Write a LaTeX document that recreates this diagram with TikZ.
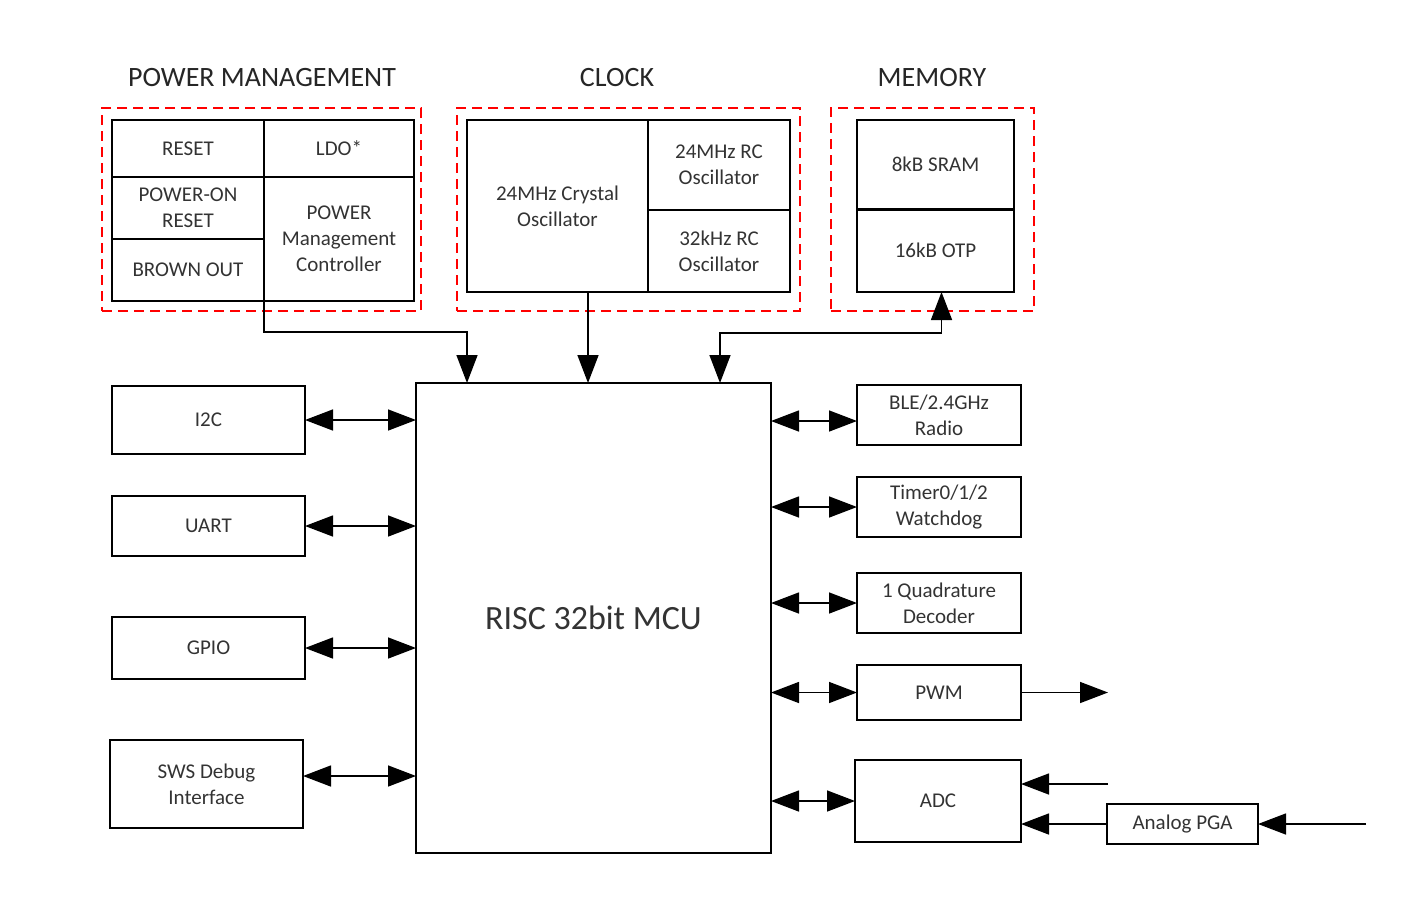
\documentclass[tikz,border=0pt]{standalone}
\usepackage{fontspec}
\setmainfont{Carlito}
\usetikzlibrary{arrows.meta}
\tikzset{
	blk/.style={draw, line width=1.5pt, inner sep=0pt, outer sep=0pt, align=center, text=black!80, font=\fontsize{21}{26}\selectfont},
	grp/.style={draw=red, dash pattern=on 10pt off 6pt, line width=1.5pt, inner sep=0pt, outer sep=0pt},
	ttl/.style={text=black!85, font=\fontsize{28}{32}\selectfont},
	link/.style={line width=1.5pt, -{Triangle[length=28pt,width=21pt]}},
	dlink/.style={line width=1.5pt, {Triangle[length=28pt,width=21pt]}-{Triangle[length=28pt,width=21pt]}},
}
\begin{document}
\begin{tikzpicture}[x=1pt, y=-1pt, line join=miter]
	\useasboundingbox (0,0) rectangle (1410,918);
	% group frames and titles
	\node[grp, minimum width=319pt, minimum height=203pt] (pmgrp) at (261.5,209.5) {};
	\node[grp, minimum width=343pt, minimum height=203pt] (clkgrp) at (628.5,209.5) {};
	\node[grp, minimum width=203pt, minimum height=203pt] (memgrp) at (932.5,209.5) {};
	\node[ttl] (pmttl) at (262,78) {POWER MANAGEMENT};
	\node[ttl] (clkttl) at (617,78) {CLOCK};
	\node[ttl] (memttl) at (932,78) {MEMORY};
	% power management
	\node[blk, minimum width=152pt, minimum height=57pt] (rst) at (188,148.5) {RESET};
	\node[blk, minimum width=150pt, minimum height=57pt] (ldo) at (339,148.5) {LDO*};
	\node[blk, minimum width=152pt, minimum height=62pt] (por) at (188,208) {POWER-ON\\RESET};
	\node[blk, minimum width=152pt, minimum height=62pt] (bor) at (188,270) {BROWN OUT};
	\node[blk, minimum width=150pt, minimum height=124pt] (pmc) at (339,239) {POWER\\Management\\Controller};
	% clock
	\node[blk, minimum width=181pt, minimum height=172pt] (xtal) at (557.5,206) {24MHz Crystal\\Oscillator};
	\node[blk, minimum width=142pt, minimum height=90pt] (rc24) at (719,165) {24MHz RC\\Oscillator};
	\node[blk, minimum width=142pt, minimum height=82pt] (rc32) at (719,251) {32kHz RC\\Oscillator};
	% memory
	\node[blk, minimum width=157pt, minimum height=89pt] (sram) at (935.5,164.5) {8kB SRAM};
	\node[blk, minimum width=157pt, minimum height=83pt] (otp) at (935.5,250.5) {16kB OTP};
	\draw[line width=3pt] (sram.south west) -- (sram.south east);
	% core
	\node[blk, minimum width=355pt, minimum height=470pt, font=\fontsize{34}{40}\selectfont] (mcu) at (593.5,618) {RISC 32bit MCU};
	% left peripherals
	\node[blk, minimum width=193pt, minimum height=68pt] (i2c) at (208.5,420) {I2C};
	\node[blk, minimum width=193pt, minimum height=60pt] (uart) at (208.5,526) {UART};
	\node[blk, minimum width=193pt, minimum height=62pt] (gpio) at (208.5,648) {GPIO};
	\node[blk, minimum width=193pt, minimum height=88pt] (sws) at (206.5,784) {SWS Debug\\Interface};
	% right peripherals
	\node[blk, minimum width=164pt, minimum height=60pt] (ble) at (939,415) {BLE/2.4GHz\\Radio};
	\node[blk, minimum width=164pt, minimum height=60pt] (tmr) at (939,507) {Timer0/1/2\\Watchdog};
	\node[blk, minimum width=164pt, minimum height=60pt] (qdec) at (939,603) {1 Quadrature\\Decoder};
	\node[blk, minimum width=164pt, minimum height=55pt] (pwm) at (939,692.5) {PWM};
	\node[blk, minimum width=166pt, minimum height=82pt] (adc) at (938,801) {ADC};
	\node[blk, minimum width=151pt, minimum height=40pt] (pga) at (1182.5,824) {Analog PGA};
	\coordinate (pwmout) at (1108,692.5);
	\coordinate (adcin) at (1108,784);
	\coordinate (pgain) at (1366,824);
	% connectors
	\draw[link] (pmc.south west) -- ++(0,31) -| ([xshift=-126.5pt]mcu.north);
	\draw[link] ([xshift=30.5pt]xtal.south) -- ([xshift=30.5pt]xtal.south |- mcu.north);
	\draw[dlink] ([xshift=126.5pt]mcu.north) -- ++(0,-50) -| ([xshift=6pt]otp.south);
	\draw[dlink] (i2c.east) -- (i2c.east -| mcu.west);
	\draw[dlink] (uart.east) -- (uart.east -| mcu.west);
	\draw[dlink] (gpio.east) -- (gpio.east -| mcu.west);
	\draw[dlink] ([yshift=8pt]sws.east) -- ([yshift=8pt]sws.east -| mcu.west);
	\draw[dlink] ([yshift=-6pt]ble.west -| mcu.east) -- ([yshift=-6pt]ble.west);
	\draw[dlink] (tmr.west -| mcu.east) -- (tmr.west);
	\draw[dlink] (qdec.west -| mcu.east) -- (qdec.west);
	\draw[dlink] (pwm.west -| mcu.east) -- (pwm.west);
	\draw[dlink] (adc.west -| mcu.east) -- (adc.west);
	\draw[link] (pwm.east) -- (pwmout);
	\draw[link] (adcin) -- (adcin -| adc.east);
	\draw[link] (pga.west) -- (pga.west -| adc.east);
	\draw[link] (pgain) -- (pga.east);
\end{tikzpicture}
\end{document}
